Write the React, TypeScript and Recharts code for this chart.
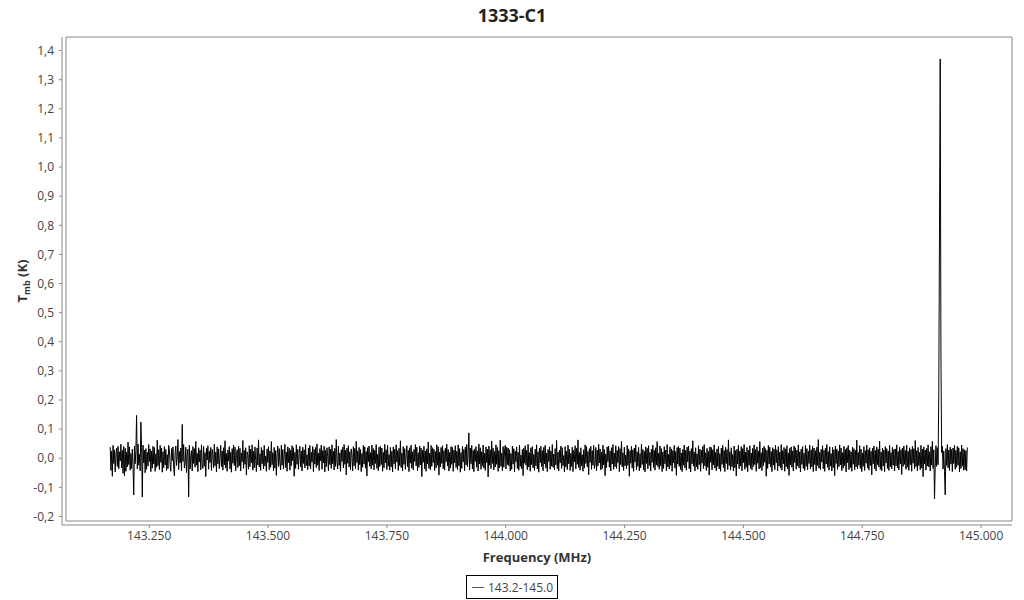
import { LineChart, Line, XAxis, YAxis, ReferenceArea, Legend } from "recharts"

const TITLE = "1333-C1"
const SERIES_NAME = "143.2-145.0"
const X_LABEL = "Frequency (MHz)"

// channel grid of the spectrum (MHz)
const FREQ_START = 143.168
const FREQ_STEP = 0.0015

const X_DOMAIN = [143.075, 145.065]
const Y_DOMAIN = [-0.2156, 1.4466]
const X_TICKS = [143.25, 143.5, 143.75, 144, 144.25, 144.5, 144.75, 145]
const Y_TICKS = [-0.2, -0.1, 0, 0.1, 0.2, 0.3, 0.4, 0.5, 0.6, 0.7, 0.8, 0.9, 1.0, 1.1, 1.2, 1.3, 1.4]

// Tmb per channel, in mK
const TMB_MK_A = [
  38, -42, 25, -62, 44, -18, 29, -47, 12, 35, -28, 41, -36, 22, -9, 48, -33, 27, -52, 40,
  -61, 34, -45, 21, -30, 55, -22, 39, -41, 16, -35, 31, -27, -126, 42, -19, 26, 147, -37, 49,
  -24, 13, -43, 124, 36, -133, 45, -16, 28, -50, 33, -38, 20, -27, 47, -11, 32, -46, 24, -34,
  41, -20, 37, -45, 15, -31, 62, -26, 29, -39, 44, -14, 35, -48, 22, -33, 40, -23, 30, -42,
  12, -36, 44, 27, -21, -45, 33, -8, 39, -30, -60, 18, 42, -25, 6, 64, -39, 23, -16, 35,
]
const TMB_MK_B = [
  -43, 116, -11, 47, -34, -20, 38, -49, 14, 31, -133, 45, -37, 9, 26, -44, 40, -18, 33, -31,
  58, -24, 17, -46, 36, -13, 28, -40, 46, -22, -35, 41, -28, 19, -63, 34, -6, 43, -38, 24,
  -15, 37, -42, 30, 11, -33, 48, -26, 21, -47, 39, -19, 32, -36, 4, 44, -29, 25, -41, 36,
  -23, 60, -34, 16, -45, 28, -10, 40, -37, 20, -48, 33, -17, 45, -25, 38, -43, 13, 29, -32,
  41, -26, 34, -44, 18, -12, 61, -35, 27, -21, 36, -58, 22, 10, -38, 43, -29, 31, -16, 46,
]
const TMB_MK_C = [
  -41, 24, -33, 39, -7, -46, 35, -23, 63, -30, 15, -42, 37, -19, 28, -36, 44, -27, 8, -45,
  32, -14, 40, -39, 25, -31, 57, -22, 19, -43, 37, -34, 26, -59, 14, 42, -28, 33, -17, -40,
  45, -24, 30, -37, 11, 48, -32, 21, -45, 39, -15, 34, -41, 27, -26, 43, -9, 36, -62, 20,
  -35, 46, -21, 31, -38, 16, 41, -30, 25, -44, 38, -18, 29, -33, 47, -25, 12, -39, 35, -27,
  44, -36, 21, -13, 40, -46, 30, -20, 37, -32, 49, -24, 17, -42, 33, -9, 45, -38, 26, -16,
]
const TMB_MK_D = [
  41, -47, 28, -29, 36, 5, -43, 39, -22, 31, -35, 46, -19, 24, -40, 34, -28, 64, -14, -37,
  42, -25, 18, -45, 29, -11, 38, -33, 47, -21, 27, -57, 35, -17, 43, -30, 22, -39, 32, 10,
  -44, 40, -26, 34, -36, 58, -15, 25, -41, 37, -23, 30, -46, 16, -31, 44, -20, 39, -34, 23,
  -61, 36, -12, 42, -28, 19, -37, 45, -24, 33, -40, 27, -18, 47, -35, 14, -43, 38, -29, 41,
  -22, 35, -45, 20, -33, 48, -16, 29, -39, 44, -27, 12, -41, 37, -30, 24, -47, 39, -19, 31,
]
const TMB_MK_E = [
  -36, 46, -13, 26, -42, 34, -25, 60, -32, 18, -44, 40, -21, 33, -38, 15, 43, -29, 27, -46,
  36, -17, 45, -34, 22, -40, 30, -11, 47, -26, 38, -43, 19, -31, 42, -23, 35, -63, 28, -14,
  41, -37, 25, -45, 32, -20, 56, -35, 17, -39, 44, -28, 36, -15, 31, -42, 23, -33, 46, -24,
  39, -58, 21, -30, 37, -18, 43, -36, 26, -41, 34, -12, 48, -27, 30, -44, 20, -34, 40, -21,
  37, -45, 28, -16, 43, -32, 24, -39, 46, -26, 33, -48, 19, -35, 41, -13, 30, -43, 38, -23,
]
const TMB_MK_F = [
  47, -29, 14, 87, -41, 35, -19, 44, -37, 27, -46, 32, -11, 40, -31, 25, -44, 49, -20, 36,
  -38, 22, -27, 45, -34, 18, -42, 39, -15, 31, -64, 42, -24, 29, -36, 59, -18, 34, -40, 23,
  -30, 46, -21, 37, -45, 26, -33, 62, -28, 17, -43, 40, -31, 25, 44, -37, 38, -22, 35, -26,
  29, -44, 16, -38, 42, -20, 33, -47, 25, -12, 39, -35, 21, -41, 45, -28, 11, -36, 30, -60,
  34, -17, 43, -24, 27, -39, 48, -30, 19, -45, 36, -22, 40, -33, 13, -42, 31, -26, 46, -37,
]
const TMB_MK_G = [
  22, -48, 35, -15, 41, -29, 26, -43, 37, -20, 44, -34, 18, -46, 30, -11, 39, -38, 25, -27,
  47, -31, 14, -40, 33, -23, 61, -36, 21, -44, 28, -16, 42, -35, 36, -25, 9, -47, 40, -30,
  24, -39, 45, -19, 31, -42, 17, -28, 38, -46, 27, -13, 43, -37, 34, -21, 63, -32, 20, -41,
  36, -26, 12, -45, 29, -34, 46, -18, 40, -30, 23, -57, 33, -14, 41, -38, 26, -24, 44, -35,
  -19, 37, -43, 28, -27, 48, -16, 32, -40, 21, -36, 45, -23, 30, -60, 15, -33, 39, -12, 42,
]
const TMB_MK_H = [
  -31, 25, -44, 36, -20, 47, -38, 18, -29, 43, -35, 27, -15, 40, -46, 33, -22, 58, -30, 19,
  -42, 38, -26, 11, -37, 44, -24, 32, -62, 26, -17, 41, -34, 29, -45, 35, -13, 46, -39, 22,
  -28, 37, -43, 16, -33, 48, -21, 30, -40, 24, -47, 39, -18, 34, -36, 43, -25, 20, -44, 31,
  -14, 45, -32, 27, -41, 36, -23, 57, -29, 17, -38, 42, -27, 33, -46, 21, -35, 40, -19, 28,
  -43, 47, -30, 14, -37, 39, -25, 32, -45, 26, -16, 44, -34, 23, -59, 37, -20, 41, -28, 35,
]
const TMB_MK_I = [
  -39, 18, -46, 30, -24, 45, -33, 27, -41, 38, -12, 42, -36, 25, -47, 33, -19, 60, -27, 21,
  -44, 36, -30, 15, -38, 43, -22, 31, -45, 28, -17, 40, -35, 47, -26, 19, -42, 34, -31, 24,
  -58, 39, -14, 37, -40, 29, -23, 46, -34, 20, -43, 32, -28, 41, -37, 16, -45, 35, -21, 44,
  -32, 27, -46, 38, -18, 30, -39, 63, -25, 22, -41, 36, -29, 13, -44, 42, -33, 26, -61, 31,
  -20, 45, -36, 24, -27, 40, -43, 33, -15, 47, -38, 21, -31, 37, -46, 28, -24, 43, -35, 18,
]
const TMB_MK_J = [
  -40, 34, -28, 46, -22, 30, -45, 39, -17, 25, -37, 57, -32, 19, -42, 35, -26, 41, -14, 33,
  -62, 27, -35, 44, -20, 38, -30, 23, -46, 36, -24, 31, -39, 45, -16, 29, -43, 40, -27, 21,
  -34, 47, -41, 26, -19, 37, -45, 32, -29, 43, -36, 18, -59, 34, -23, 39, -31, 25, -44, 42,
  -15, 36, -38, 28, -26, 46, -33, 22, -47, 31, -21, 40, -35, 17, -42, 44, -28, 33, -40, 24,
  -18, 45, -37, 29, -30, 41, -46, 35, -22, 26, -43, 38, -25, 64, -34, 20, -39, 30, -13, 43,
]
const TMB_MK_K = [
  -36, 27, -45, 34, -20, 47, -31, 23, -41, 39, -27, 16, -44, 37, -33, 29, -60, 42, -18, 32,
  -38, 25, -29, 46, -23, 35, -43, 19, -34, 41, -26, 30, -47, 36, -15, 44, -39, 28, -32, 22,
  -45, 38, -21, 33, -40, 27, -30, 62, -37, 20, -24, 43, -35, 31, -46, 18, -28, 40, -42, 26,
  -17, 45, -33, 29, -41, 36, -25, 24, -57, 34, -19, 42, -36, 27, -44, 39, -22, 31, -30, 59,
  -38, 21, -43, 35, -27, 28, -46, 40, -16, 33, -35, 25, -42, 44, -29, 19, -37, 37, -24, 30,
]
const TMB_MK_L = [
  -44, 32, -26, 46, -33, 23, -40, 38, -19, 29, -56, 35, -28, 42, -21, 27, -38, 45, -31, 24,
  -42, 36, -23, 30, -45, 41, -17, 33, -36, 61, -29, 26, -43, 37, -25, 20, -39, 44, -34, 31,
  -63, 39, -20, 28, -41, 34, -27, 46, -30, 22, -44, 40, -24, 58, -35, 29, -140, -31, 43, -28,
  36, -22, 230, 800, 1371, 360, 20, 41, -37, 25, -45, -126, 33, -25, 47, -33, 28, -42, 38, -20,
  30, -46, 35, -18, 44, -38, 27, -31, 41, -24, 36, -47, 22, -35, 45, -27, 33, -41, 29, -39, 26, -44, 37,
]

const TMB_MK = [
  ...TMB_MK_A, ...TMB_MK_B, ...TMB_MK_C, ...TMB_MK_D, ...TMB_MK_E, ...TMB_MK_F,
  ...TMB_MK_G, ...TMB_MK_H, ...TMB_MK_I, ...TMB_MK_J, ...TMB_MK_K, ...TMB_MK_L,
]

const data = TMB_MK.map((mk, i) => ({
  freq: FREQ_START + i * FREQ_STEP,
  tmb: mk / 1000,
}))

const FONT = "'Open Sans', sans-serif"
const AXIS_GRAY = "#888"
const TICK_STYLE = { fill: "#444", fontSize: 12, fontFamily: FONT }

function YLabel(props: any) {
  const vb = props.viewBox
  const cx = vb.x + 22
  const cy = vb.y + vb.height / 2
  return (
    <text
      x={cx}
      y={cy}
      transform={`rotate(-90, ${cx}, ${cy})`}
      textAnchor="middle"
      dominantBaseline="central"
      fill="#333"
      fontSize={13}
      fontWeight="bold"
      fontFamily={FONT}
    >
      T
      <tspan fontSize={9} dy={4}>mb</tspan>
      <tspan dy={-4}> (K)</tspan>
    </text>
  )
}

function LegendBox() {
  return (
    <div style={{ display: "flex", justifyContent: "center", paddingTop: 5, paddingLeft: 12 }}>
      <div
        style={{
          border: "1px solid #000",
          height: 24,
          boxSizing: "border-box",
          padding: "0 4px 0 5px",
          display: "flex",
          alignItems: "center",
          fontSize: 12,
          color: "#444",
          fontFamily: FONT,
        }}
      >
        <span style={{ display: "inline-block", width: 12, borderTop: "1px solid #555", marginRight: 4 }} />
        {SERIES_NAME}
      </div>
    </div>
  )
}

export default function App() {
  return (
    <div style={{ position: "absolute", left: 0, top: 0, width: 1024, height: 600, background: "#fff", fontFamily: FONT }}>
      <div style={{ height: 30, lineHeight: "30px", textAlign: "center", fontSize: 18, fontWeight: "bold", color: "#222" }}>
        {TITLE}
      </div>
      <LineChart width={1024} height={570} data={data} margin={{ top: 7, right: 12, bottom: 0, left: 0 }}>
        <XAxis
          dataKey="freq"
          type="number"
          domain={X_DOMAIN}
          allowDataOverflow
          ticks={X_TICKS}
          tickFormatter={(v: number) => v.toFixed(3)}
          padding={{ left: 4, right: 0 }}
          height={45}
          stroke={AXIS_GRAY}
          tick={TICK_STYLE}
          tickSize={3}
          tickMargin={3}
          label={{ value: X_LABEL, position: "insideBottom", offset: 8, fill: "#333", fontSize: 13, fontWeight: "bold", fontFamily: FONT }}
        />
        <YAxis
          type="number"
          domain={Y_DOMAIN}
          allowDataOverflow
          ticks={Y_TICKS}
          tickFormatter={(v: number) => v.toFixed(1).replace(".", ",")}
          padding={{ top: 0, bottom: 4 }}
          width={62}
          stroke={AXIS_GRAY}
          tick={TICK_STYLE}
          tickSize={3}
          tickMargin={5}
          label={YLabel}
        />
        <ReferenceArea
          x1={X_DOMAIN[0]}
          x2={X_DOMAIN[1]}
          y1={Y_DOMAIN[0]}
          y2={Y_DOMAIN[1]}
          fill="none"
          stroke={AXIS_GRAY}
          strokeWidth={1}
        />
        <Line
          type="linear"
          dataKey="tmb"
          name={SERIES_NAME}
          stroke="#000"
          strokeWidth={1}
          dot={false}
          isAnimationActive={false}
        />
        <Legend verticalAlign="bottom" height={30} content={LegendBox} />
      </LineChart>
    </div>
  )
}
